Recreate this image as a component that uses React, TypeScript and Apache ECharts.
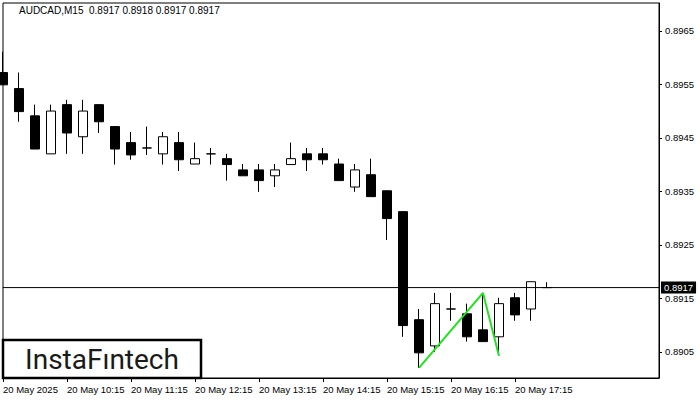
import React, { useEffect, useRef } from "react";
import * as echarts from "echarts";

const TITLE = "AUDCAD,M15  0.8917 0.8918 0.8917 0.8917";
const LOGO = "InstaFıntech";

const TIMES = [
  "09:15", "09:30", "09:45", "10:00", "10:15", "10:30", "10:45", "11:00",
  "11:15", "11:30", "11:45", "12:00", "12:15", "12:30", "12:45", "13:00",
  "13:15", "13:30", "13:45", "14:00", "14:15", "14:30", "14:45", "15:00",
  "15:15", "15:30", "15:45", "16:00", "16:15", "16:30", "16:45", "17:00",
  "17:15", "17:30", "17:45", "18:00", "18:15", "18:30", "18:45", "19:00",
  "19:15", "19:30",
];

const X_TICK_INDEX = [0, 4, 8, 12, 16, 20, 24, 28, 32];
const X_TICK_LABELS = [
  "20 May 2025", "20 May 10:15", "20 May 11:15", "20 May 12:15", "20 May 13:15",
  "20 May 14:15", "20 May 15:15", "20 May 16:15", "20 May 17:15",
];

const Y_TICKS = [0.8905, 0.8915, 0.8925, 0.8935, 0.8945, 0.8955, 0.8965];

const OPEN = [
  0.89572, 0.89542, 0.89491, 0.8942, 0.89512, 0.89452, 0.89512, 0.89471, 0.89441, 0.89431,
  0.8942, 0.89441, 0.89401, 0.8942, 0.89411, 0.8939, 0.8939, 0.89379, 0.894, 0.8942,
  0.8942, 0.89401, 0.89358, 0.89381, 0.89351, 0.89312, 0.8911, 0.89061, 0.8913, 0.89121,
  0.89091, 0.89078, 0.89151, 0.8913, 0.8917,
];
const HIGH = [
  0.89611, 0.89572, 0.89512, 0.89512, 0.89521, 0.89521, 0.89512, 0.89471, 0.89461, 0.89471,
  0.89461, 0.89461, 0.89441, 0.89431, 0.8942, 0.89401, 0.89401, 0.89401, 0.89441, 0.89431,
  0.89431, 0.89411, 0.89401, 0.89411, 0.89351, 0.89312, 0.8913, 0.8916, 0.8916, 0.8914,
  0.8916, 0.89151, 0.8916, 0.89181, 0.8918,
];
const LOW = [
  0.89549, 0.8948, 0.89429, 0.8942, 0.8942, 0.8942, 0.89459, 0.894, 0.89409, 0.89418,
  0.894, 0.89388, 0.89401, 0.894, 0.8937, 0.89379, 0.89349, 0.89358, 0.894, 0.89388,
  0.894, 0.8937, 0.89349, 0.8934, 0.89259, 0.89078, 0.8902, 0.8905, 0.89108, 0.89069,
  0.89069, 0.89046, 0.89108, 0.89108, 0.8917,
];
const CLOSE = [
  0.89549, 0.89499, 0.89429, 0.895, 0.89459, 0.895, 0.8948, 0.89429, 0.89418, 0.89431,
  0.89452, 0.89409, 0.89411, 0.8942, 0.894, 0.89379, 0.8937, 0.8939, 0.89411, 0.89409,
  0.89409, 0.8937, 0.8939, 0.8934, 0.89299, 0.89099, 0.89048, 0.8914, 0.8913, 0.89078,
  0.89069, 0.8914, 0.89119, 0.89181, 0.8917,
];

const CURRENT_PRICE = 0.8917;
const PATTERN_X = [26, 30, 31];
const PATTERN_Y = [0.8902, 0.8916, 0.89042];

const Y_MIN = 0.89001;
const Y_MAX = 0.89702;
const AXIS_FONT = "Liberation Sans";

export default function App() {
  const ref = useRef<HTMLDivElement>(null);

  useEffect(() => {
    if (!ref.current) return;
    const chart = echarts.init(ref.current, null, { renderer: "svg" });
    const candles = OPEN.map((o, i) => [o, CLOSE[i], LOW[i], HIGH[i]]);
    const pattern = PATTERN_X.map((x, i) => [x, PATTERN_Y[i]]);
    const priceLine = [
      [0, CURRENT_PRICE],
      [TIMES.length - 1, CURRENT_PRICE],
    ];
    const showTick = (index: number) => X_TICK_INDEX.indexOf(index) >= 0;

    chart.setOption({
      animation: false,
      backgroundColor: "#ffffff",
      title: {
        text: TITLE,
        left: 19,
        top: 5,
        padding: 0,
        textStyle: {
          fontSize: 10,
          fontWeight: "normal",
          fontFamily: AXIS_FONT,
          color: "#000",
        },
      },
      grid: {
        left: 3,
        right: 41,
        top: 3,
        bottom: 22,
        show: true,
        borderColor: "#000",
        borderWidth: 1,
        backgroundColor: "#fff",
      },
      xAxis: {
        type: "category",
        data: TIMES,
        boundaryGap: false,
        axisLine: { show: true, lineStyle: { color: "#000", width: 1 } },
        axisTick: {
          show: true,
          interval: showTick,
          length: 4,
          lineStyle: { color: "#000" },
        },
        axisLabel: {
          interval: showTick,
          align: "left",
          margin: 6,
          fontSize: 9.5,
          fontFamily: AXIS_FONT,
          color: "#000",
          formatter: (_v: string, idx: number) => {
            const k = X_TICK_INDEX.indexOf(idx);
            return k >= 0 ? X_TICK_LABELS[k] : "";
          },
        },
        splitLine: { show: false },
      },
      yAxis: [
        {
          type: "value",
          position: "right",
          min: Y_MIN,
          max: Y_MAX,
          scale: true,
          axisLine: { show: true, lineStyle: { color: "#000", width: 1 } },
          axisTick: {
            show: true,
            length: 3,
            customValues: Y_TICKS,
            lineStyle: { color: "#000" },
          },
          axisLabel: {
            customValues: Y_TICKS,
            margin: 6,
            fontSize: 9.5,
            fontFamily: AXIS_FONT,
            color: "#000",
            formatter: (v: number) => v.toFixed(4),
          },
          splitLine: { show: false },
        },
        {
          type: "value",
          position: "right",
          min: Y_MIN,
          max: Y_MAX,
          scale: true,
          axisLine: { show: false },
          axisTick: { show: false },
          splitLine: { show: false },
          axisLabel: {
            customValues: [CURRENT_PRICE],
            margin: 2,
            fontSize: 9.5,
            fontFamily: AXIS_FONT,
            color: "#fff",
            backgroundColor: "#000",
            padding: [1, 3, 1, 3],
            formatter: (v: number) => v.toFixed(4),
          },
        },
      ],
      series: [
        {
          type: "candlestick",
          data: candles,
          barWidth: 10,
          itemStyle: {
            color: "#ffffff",
            color0: "#000000",
            borderColor: "#000000",
            borderColor0: "#000000",
            borderWidth: 1,
          },
        },
        {
          type: "line",
          data: priceLine,
          symbol: "none",
          z: 4,
          silent: true,
          lineStyle: { color: "#000", width: 1 },
        },
        {
          type: "line",
          data: pattern,
          symbol: "none",
          z: 5,
          lineStyle: { color: "#22e022", width: 2 },
        },
      ],
      graphic: [
        {
          type: "group",
          z: 100,
          children: [
            {
              type: "rect",
              shape: { x: 3, y: 340, width: 198, height: 38 },
              style: { fill: "#fff", stroke: "#000", lineWidth: 2.5 },
            },
            {
              type: "text",
              x: 102,
              y: 359,
              style: {
                text: LOGO,
                font: '400 28px Roboto',
                fill: "#1a1a1a",
                align: "center",
                verticalAlign: "middle",
              },
            },
          ],
        },
      ],
    });
    return () => chart.dispose();
  }, []);

  return (
    <div
      ref={ref}
      style={{ position: "fixed", left: 0, top: 0, width: 700, height: 400, background: "#fff" }}
    />
  );
}
